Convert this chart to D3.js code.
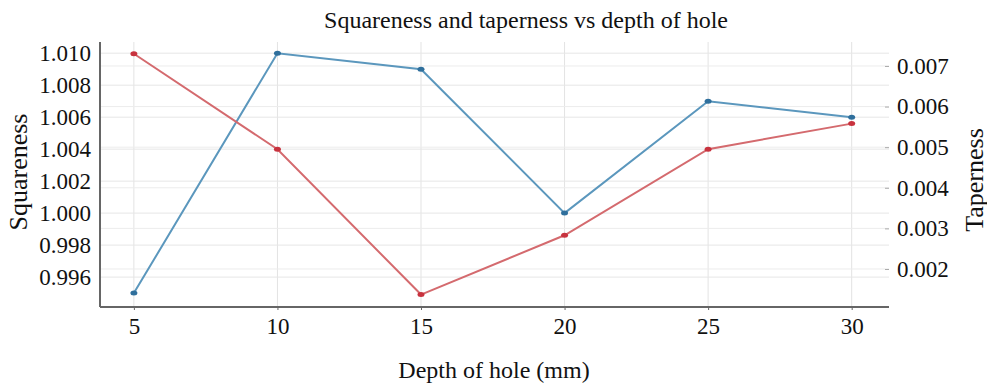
<!DOCTYPE html>
<html>
<head>
<meta charset="utf-8">
<script src="https://cdn.jsdelivr.net/npm/d3@7"></script>
<style>
  body { margin: 0; background: #fff; }
</style>
</head>
<body>
<svg id="chart" width="987" height="387"></svg>
<script>
// data
const depth = [5, 10, 15, 20, 25, 30];
const squareness = [0.995, 1.010, 1.009, 1.000, 1.007, 1.006];
const taperness = [0.0073, 0.00495, 0.00137, 0.00283, 0.00495, 0.00558];
const leftTicks = [0.996, 0.998, 1.000, 1.002, 1.004, 1.006, 1.008, 1.010];
const rightTicks = [0.002, 0.003, 0.004, 0.005, 0.006, 0.007];

const serif = "'Liberation Serif', 'Times New Roman', serif";
const svg = d3.select("#chart");
const margin = { top: 42, right: 98, bottom: 80, left: 100 };
const width = 987, height = 387;
const innerWidth = width - margin.left - margin.right;
const innerHeight = height - margin.top - margin.bottom;

const g = svg.append("g").attr("transform", `translate(${margin.left},${margin.top})`);

const x = d3.scaleLinear().domain([3.82, 31.3]).range([0, innerWidth]);
const yL = d3.scaleLinear().domain([0.99413, 1.0107]).range([innerHeight, 0]);
const yR = d3.scaleLinear().domain([0.001064, 0.00759]).range([innerHeight, 0]);

// grid
const grid = g.append("g").attr("class", "grid");
grid.selectAll("line.v").data(depth).join("line")
  .attr("x1", d => x(d)).attr("x2", d => x(d))
  .attr("y1", 0).attr("y2", innerHeight)
  .style("stroke", "#e3e3e3").style("stroke-width", 1);
grid.selectAll("line.hl").data(leftTicks).join("line")
  .attr("x1", 0).attr("x2", innerWidth)
  .attr("y1", d => yL(d)).attr("y2", d => yL(d))
  .style("stroke", "#e6e6e6").style("stroke-width", 1);
grid.selectAll("line.hr").data(rightTicks).join("line")
  .attr("x1", 0).attr("x2", innerWidth)
  .attr("y1", d => yR(d)).attr("y2", d => yR(d))
  .style("stroke", "#ececec").style("stroke-width", 1);

// axes
const xAxis = d3.axisBottom(x).tickValues(depth).tickSize(3).tickPadding(8);
const yAxisL = d3.axisLeft(yL).tickValues(leftTicks).tickFormat(d3.format(".3f")).tickSize(0).tickPadding(9);
const yAxisR = d3.axisRight(yR).tickValues(rightTicks).tickFormat(d3.format(".3f")).tickSize(4).tickPadding(8);

const xg = g.append("g").attr("transform", `translate(0,${innerHeight})`).call(xAxis);
const ylg = g.append("g").call(yAxisL);
const yrg = g.append("g").attr("transform", `translate(${innerWidth - 4},0)`).call(yAxisR);

[xg, ylg, yrg].forEach(a => {
  a.attr("font-family", null).attr("font-size", null);
  a.selectAll("text")
    .style("font-family", serif)
    .style("font-size", "23px")
    .style("fill", "#111");
});
xg.select(".domain").attr("d", `M0,0H${innerWidth}`).style("stroke", "#666").style("stroke-width", 2);
xg.selectAll(".tick line").style("stroke", "#666");
ylg.select(".domain").attr("d", `M0,0V${innerHeight}`).style("stroke", "#666").style("stroke-width", 2);
yrg.select(".domain").remove();
yrg.selectAll(".tick line").style("stroke", "#aaa");

// lines
const series = [
  { values: squareness, y: yL, line: "#5b97bd", dot: "#2f6f9c" },
  { values: taperness, y: yR, line: "#d46a6e", dot: "#c8323e" }
];
series.forEach(s => {
  const pts = depth.map((d, i) => [d, s.values[i]]);
  g.append("path")
    .datum(pts)
    .attr("d", d3.line().x(d => x(d[0])).y(d => s.y(d[1])))
    .style("fill", "none")
    .style("stroke", s.line)
    .style("stroke-width", 2);
  g.selectAll(null).data(pts).join("ellipse")
    .attr("cx", d => x(d[0])).attr("cy", d => s.y(d[1]))
    .attr("rx", 3.5).attr("ry", 2.5)
    .style("fill", s.dot);
});

// titles
function label(txt, size) {
  return svg.append("text")
    .attr("text-anchor", "middle")
    .style("font-family", serif)
    .style("font-size", size)
    .style("fill", "#111")
    .text(txt);
}
label("Squareness and taperness vs depth of hole", "24px").attr("x", 526).attr("y", 28);
label("Depth of hole (mm)", "24px").attr("x", 494).attr("y", 378);
label("Squareness", "26px").attr("transform", "translate(27,172) rotate(-90)");
label("Taperness", "26px").attr("transform", "translate(983,180) rotate(-90)");
</script>
</body>
</html>
